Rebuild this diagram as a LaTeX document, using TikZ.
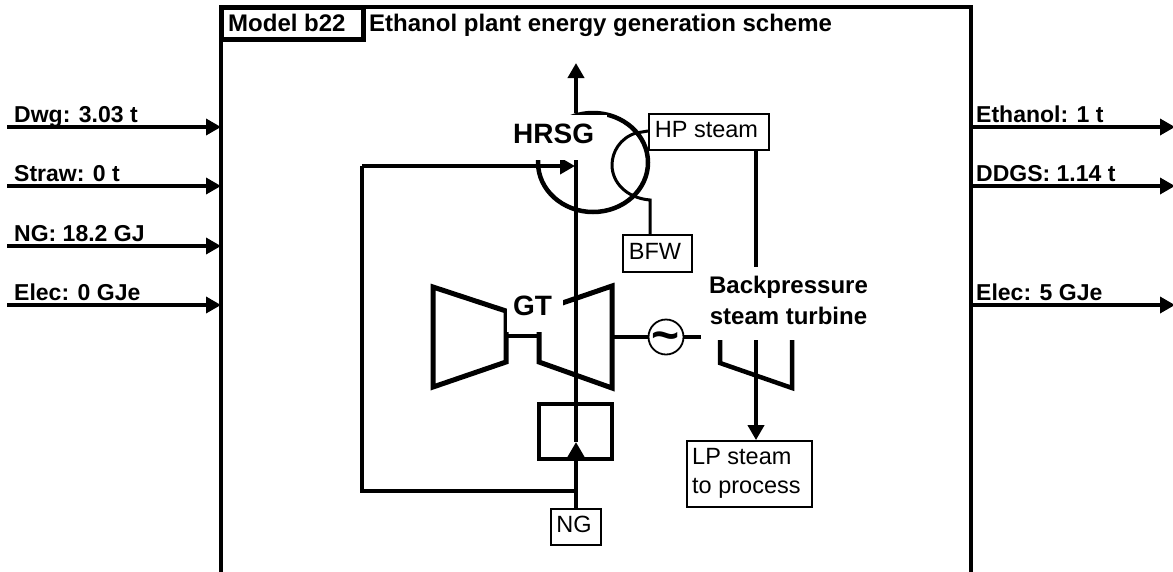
\documentclass[tikz,border=0pt]{standalone}
\usepackage{fontspec}
\setmainfont{Liberation Sans}
\usetikzlibrary{arrows.meta,shapes.geometric}
\newcommand{\fsz}[1]{\fontsize{#1}{#1}\selectfont}
\tikzset{
  x=1pt,y=-1pt,
  tipa/.style={-{Triangle[length=15pt,width=16pt]}},
  flow/.style={line width=3.5pt,tipa},
  heavy/.style={line width=4.5pt,line join=miter},
  pipe/.style={line width=4pt},
  lbl/.style={anchor=base west,inner sep=0pt,font=\bfseries\fsz{23}},
  ttl/.style={anchor=base west,inner sep=0pt,font=\bfseries\fsz{24}},
  bigl/.style={anchor=base west,inner sep=0pt,font=\bfseries\fsz{28}},
  tag/.style={draw,line width=1.8pt,fill=white,inner sep=0pt,text depth=4.5pt,font=\fsz{23.5}},
}
\begin{document}
\begin{tikzpicture}
\useasboundingbox (0,0) rectangle (1173,571);
% frame
\coordinate (fbl) at (221,578);
\coordinate (ftl) at (221,7);
\coordinate (ftr) at (971,7);
\coordinate (fbr) at (971,578);
\draw[heavy] (fbl) -- (ftl) -- (ftr) -- (fbr);
\node[draw,line width=5pt,fill=white,minimum width=142pt,minimum height=32pt,inner sep=0pt] (model) at (292,23) {};
\node[ttl] (modeltxt) at (228,31) {Model b22};
\node[ttl] (title) at (369,31) {Ethanol plant energy generation scheme};
% left inputs
\foreach \n/\yy/\t in {a/127/Dwg: 3.03 t,b/186/Straw: 0 t,c/246/NG: 18.2 GJ,d/305/Elec: 0 GJe}{
  \coordinate (in\n) at (7,\yy);
  \coordinate (inf\n) at (221,\yy);
  \draw[flow] (in\n) -- (inf\n);
  \node[lbl] (inl\n) at (14,\yy-5) {\t};
}
% right outputs
\foreach \n/\yy/\t in {a/127/Ethanol: 1 t,b/186/DDGS: 1.14 t,c/305/Elec: 5 GJe}{
  \coordinate (out\n) at (971,\yy);
  \coordinate (outf\n) at (1175,\yy);
  \draw[flow] (out\n) -- (outf\n);
  \node[lbl] (outl\n) at (976,\yy-5) {\t};
}
% boxes
\node[tag,minimum width=120pt,minimum height=36pt] (hp) at (709,132) {HP steam\kern5pt};
\node[tag,minimum width=69pt,minimum height=37pt] (bfw) at (657.5,253.5) {BFW\kern5pt};
\node[tag,minimum width=50pt,minimum height=36pt] (ng) at (576,527) {NG\kern4pt};
\node[draw,line width=1.8pt,fill=white,minimum width=125pt,minimum height=66pt,inner sep=0pt] (lp) at (749.5,474) {};
\node[anchor=base west,inner sep=0pt,font=\fsz{23.5}] (lp1) at (692,464) {LP steam};
\node[anchor=base west,inner sep=0pt,font=\fsz{23.5}] (lp2) at (692,493) {to process};
% stack
\coordinate (stkmid) at (576,160);
\coordinate (stktop) at (576,113);
\coordinate (stkout) at (576,63);
\coordinate (burn) at (576,442);
\coordinate (tee) at (576,491);
\draw[pipe] (stkmid) -- (burn);
% combustor
\node[draw,line width=4.5pt,minimum width=73pt,minimum height=55pt,inner sep=0pt] (comb) at (575.5,431.5) {};
\draw[flow,line width=4pt] (ng.north) -- (burn);
% recycle
\coordinate (rb) at (362,491);
\coordinate (rt) at (362,166);
\coordinate (rin) at (575,166);
\draw[line width=3.5pt,line join=miter] (tee) -- (rb) -- (rt);
\draw[pipe,tipa] (rt) -- (rin);
% HRSG
\node[draw,line width=4.5pt,ellipse,minimum width=110pt,minimum height=99pt,inner sep=0pt] (hrsg) at (593,162.5) {};
\coordinate (ic1) at (636,133);
\coordinate (ic2) at (650,200);
\draw[line width=3pt] (hp.west |- 0,131) -- (ic1) .. controls (620,138) and (612,152) .. (612,165) .. controls (612,182) and (626,198) .. (ic2) -- (bfw.north -| ic2);
\fill[white] (500,114.5) rectangle (607,160);
\node[bigl] (hrsgl) at (513,143) {HRSG};
\draw[flow,line width=4pt] (stktop) -- (stkout);
% steam line and backpressure turbine
\draw[pipe] (hp.south -| 756,0) -- (756,267);
\coordinate (bt) at (756,340);
\draw[heavy] (720,340) -- (720,363) -- (792,388) -- (792,340);
\draw[flow,line width=4pt] (bt) -- (lp.north -| bt);
\node[inner sep=0pt,align=center,font=\bfseries\fontsize{24}{31}\selectfont] (bpl) at (788.5,300.5) {Backpressure\\steam turbine};
% gas turbine
\draw[heavy,line width=5pt] (433,287) -- (506,311) -- (506,362) -- (433,387) -- cycle;
\draw[heavy,line width=5pt] (539,311) -- (612,286) -- (612,388) -- (539,362) -- cycle;
\coordinate (s1) at (506,336);
\coordinate (s2) at (539,336);
\draw[pipe] (s1) -- (s2);
\fill[white] (507,295) rectangle (563,332);
\node[bigl] (gtl) at (513,315) {GT};
% generator
\node[draw,circle,line width=1.8pt,fill=white,minimum size=35pt,inner sep=0pt] (gen) at (666,337) {};
\node[inner sep=0pt,font=\bfseries\fsz{48}] (til) at (666,342) {\symbol{"7E}};
\coordinate (g2) at (701,337);
\draw[pipe] (612,337) -- (gen.west);
\draw[pipe] (gen.east) -- (g2);
\end{tikzpicture}
\end{document}
